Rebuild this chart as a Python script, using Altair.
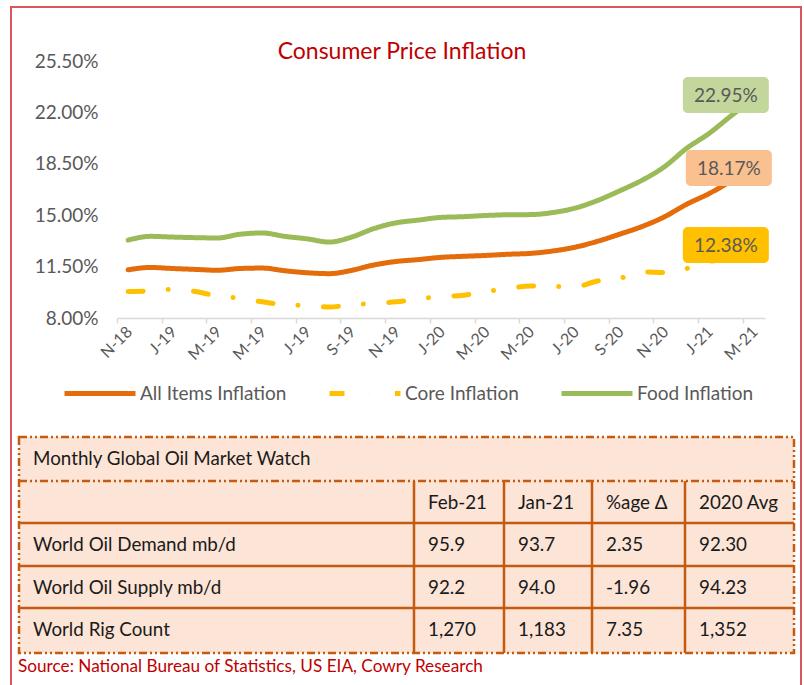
import altair as alt
import pandas as pd

# ---------------- data ----------------
months = ["Nov-18", "Dec-18", "Jan-19", "Feb-19", "Mar-19", "Apr-19", "May-19", "Jun-19",
          "Jul-19", "Aug-19", "Sep-19", "Oct-19", "Nov-19", "Dec-19", "Jan-20", "Feb-20",
          "Mar-20", "Apr-20", "May-20", "Jun-20", "Jul-20", "Aug-20", "Sep-20", "Oct-20",
          "Nov-20", "Dec-20", "Jan-21", "Feb-21", "Mar-21"]
all_items = [11.28, 11.44, 11.37, 11.31, 11.25, 11.37, 11.40, 11.22, 11.08, 11.02, 11.24, 11.61,
             11.85, 11.98, 12.13, 12.20, 12.26, 12.34, 12.40, 12.56, 12.82, 13.22, 13.71, 14.23,
             14.89, 15.75, 16.47, 17.33, 18.17]
core = [9.80, 9.85, 9.95, 9.80, 9.50, 9.35, 9.10, 8.90, 8.85, 8.75, 8.90, 9.00, 9.10, 9.30,
        9.45, 9.55, 9.80, 10.00, 10.18, 10.15, 10.12, 10.52, 10.70, 11.14, 11.10, 11.37, 11.85,
        12.00, 12.38]
food = [13.30, 13.56, 13.51, 13.47, 13.45, 13.70, 13.79, 13.56, 13.39, 13.17, 13.51, 14.09,
        14.48, 14.67, 14.85, 14.90, 14.98, 15.03, 15.04, 15.18, 15.48, 16.00, 16.66, 17.38,
        18.30, 19.56, 20.57, 21.79, 22.95]
series_names = ["All Items Inflation", "Core Inflation", "Food Inflation"]
y_ticks = [8.0, 11.5, 15.0, 18.5, 22.0, 25.5]
label_months = months[::2]
chart_title = "Consumer Price Inflation"

table_title = "Monthly Global Oil Market Watch"
table_columns = ["", "Feb-21", "Jan-21", "%age \u0394", "2020 Avg"]
table_rows = ["World Oil Demand mb/d", "World Oil Supply mb/d", "World Rig Count"]
feb21 = ["95.9", "92.2", "1,270"]
jan21 = ["93.7", "94.0", "1,183"]
pct_change = ["2.35", "-1.96", "7.35"]
avg2020 = ["92.30", "94.23", "1,352"]
source_note = "Source: National Bureau of Statistics, US EIA, Cowry Research"

# ---------------- styles ----------------
FONT = "Lato"
line_colors = ["#E46C0A", "#FFC000", "#9BBB59"]
box_fills = ["#FAC090", "#FFC000", "#C3D69B"]
dashes = [[1, 0], [15, 25, 0.1, 25.4], [1, 0]]
box_offsets = [(-25, -0.6), (-28, -8.7), (-28, -3.5)]
grey = "#595959"
frame_red = "#D9575A"
title_red = "#C00000"
table_fill = "#FCE4D6"
table_line = "#C55A11"
W, H = 648, 257
step = W / len(months)

# ---------------- line chart ----------------
series_values = [all_items, core, food]
lines_df = pd.DataFrame({
    "month": [m for _ in series_names for m in months],
    "idx": [i for _ in series_names for i in range(len(months))],
    "series": [s for s in series_names for _ in months],
    "value": [v for vals in series_values for v in vals],
})
last_df = pd.DataFrame({
    "month": [months[-1]] * 3,
    "series": series_names,
    "value": [vals[-1] for vals in series_values],
})

x_enc = alt.X(
    "month:O",
    sort=months,
    scale=alt.Scale(type="point", domain=months, padding=0.5),
    axis=alt.Axis(
        values=label_months, title=None, grid=False,
        labelExpr="substring(datum.label,0,1) + '-' + substring(datum.label,4,6)",
        labelAngle=-45, labelAlign="right", labelBaseline="middle",
        labelFontSize=16, labelColor=grey, labelFont=FONT, labelPadding=6,
        labelOverlap=False, labelOffset=step / 2 + 1,
        tickOffset=-step / 2, tickSize=5, tickColor="#D9D9D9", tickWidth=1.5,
        domainColor="#D9D9D9", domainWidth=1.5,
    ),
)
y_enc = alt.Y(
    "value:Q",
    scale=alt.Scale(domain=[8, 25.5], nice=False, zero=False),
    axis=alt.Axis(
        values=y_ticks, title=None, grid=False, domain=False, ticks=False,
        labelExpr="format(datum.value, '.2f') + '%'",
        labelFontSize=19, labelColor=grey, labelFont=FONT, labelPadding=19,
    ),
)
legend = alt.Legend(
    title=None, orient="none", legendX=-55, legendY=294.5, direction="horizontal",
    symbolType="stroke", symbolSize=71 * 71, symbolStrokeWidth=5,
    labelFontSize=19, labelColor=grey, labelFont=FONT, labelOffset=2,
    columnPadding=32, padding=0,
)
lines = alt.Chart(lines_df).mark_line(
    interpolate="monotone", strokeWidth=5, strokeCap="round"
).encode(
    x=x_enc, y=y_enc,
    color=alt.Color("series:N", scale=alt.Scale(domain=series_names, range=line_colors), legend=legend),
    strokeDash=alt.StrokeDash("series:N", scale=alt.Scale(domain=series_names, range=dashes), legend=legend),
    order=alt.Order("idx:Q"),
)

label_layers = []
for name, fill, (dx, dy) in zip(series_names, box_fills, box_offsets):
    base = alt.Chart(last_df).transform_filter(alt.datum.series == name)
    label_layers.append(
        base.mark_rect(width=86, height=36, cornerRadius=5, fill=fill, xOffset=dx, yOffset=dy)
        .encode(x=x_enc, y=y_enc)
    )
    label_layers.append(
        base.transform_calculate(txt="format(datum.value, '.2f') + '%'")
        .mark_text(font=FONT, fontSize=19, color=grey, align="center", baseline="middle",
                   xOffset=dx, yOffset=dy + 1)
        .encode(x=x_enc, y=y_enc, text="txt:N")
    )

one = pd.DataFrame({"title": [chart_title]})
frame_left = alt.Chart(one).mark_rule(color=frame_red, strokeWidth=2).encode(
    x=alt.value(-106), y=alt.value(-54), y2=alt.value(624))
frame_top = alt.Chart(one).mark_rule(color=frame_red, strokeWidth=2).encode(
    x=alt.value(-107), x2=alt.value(685), y=alt.value(-54))
frame_right = alt.Chart(one).mark_rule(color=frame_red, strokeWidth=2).encode(
    x=alt.value(684), y=alt.value(-54), y2=alt.value(624))
title_mark = alt.Chart(one).mark_text(
    font=FONT, fontSize=23, color=title_red, align="center", baseline="alphabetic"
).encode(x=alt.value(285), y=alt.value(-2), text="title:N")

main = alt.layer(frame_left, frame_top, frame_right, lines, *label_layers, title_mark)

# ---------------- table ----------------
n_cols = len(table_columns)
n_rows = 2 + len(table_rows)
cells = [dict(c0=0, c1=n_cols, r0=0, r1=1)]
for r in range(1, n_rows):
    for c in range(n_cols):
        cells.append(dict(c0=c, c1=c + 1, r0=r, r1=r + 1))
cells_df = pd.DataFrame(cells)

texts = [dict(c=0, r=0, t=table_title)]
for c in range(1, n_cols):
    texts.append(dict(c=c, r=1, t=table_columns[c]))
for i, name in enumerate(table_rows):
    row_vals = [name, feb21[i], jan21[i], pct_change[i], avg2020[i]]
    for c, v in enumerate(row_vals):
        texts.append(dict(c=c, r=2 + i, t=v))
texts_df = pd.DataFrame(texts)
src_df = pd.DataFrame({"c": [0], "r": [n_rows], "t": [source_note]})

vlines_df = pd.DataFrame({"c": list(range(1, n_cols)), "r0": [1] * (n_cols - 1), "r1": [n_rows] * (n_cols - 1)})
hlines_df = pd.DataFrame({"r": list(range(2, n_rows)), "c0": [0] * (n_rows - 2), "c1": [n_cols] * (n_rows - 2)})
border_df = pd.DataFrame({"c0": [0], "c1": [n_cols], "r0": [0], "r1": [n_rows]})
dashed_h_df = pd.DataFrame({"r": [1], "c0": [0], "c1": [n_cols]})

tx = alt.Scale(domain=list(range(n_cols + 1)), range=[-98, 297, 387, 475, 568, 677], nice=False, zero=False)
ty = alt.Scale(domain=list(range(n_rows + 1)), range=[376, 420, 462, 505, 547, 592], nice=False, zero=False)
dash_pat = [8, 3, 2, 3, 2, 3]

cells_layer = alt.Chart(cells_df).mark_rect(fill=table_fill, stroke=None).encode(
    x=alt.X("c0:Q", scale=tx, axis=None), x2="c1:Q",
    y=alt.Y("r0:Q", scale=ty, axis=None), y2="r1:Q")
vlines = alt.Chart(vlines_df).mark_rule(color=table_line, strokeWidth=2.5).encode(
    x=alt.X("c:Q", scale=tx, axis=None),
    y=alt.Y("r0:Q", scale=ty, axis=None), y2="r1:Q")
hlines = alt.Chart(hlines_df).mark_rule(color=table_line, strokeWidth=2.5).encode(
    y=alt.Y("r:Q", scale=ty, axis=None),
    x=alt.X("c0:Q", scale=tx, axis=None), x2="c1:Q")
dashed_h = alt.Chart(dashed_h_df).mark_rule(color=table_line, strokeWidth=2.5, strokeDash=dash_pat).encode(
    y=alt.Y("r:Q", scale=ty, axis=None),
    x=alt.X("c0:Q", scale=tx, axis=None), x2="c1:Q")
border = alt.Chart(border_df).mark_rect(
    fill=None, fillOpacity=0, stroke=table_line, strokeWidth=2.5, strokeDash=dash_pat
).encode(
    x=alt.X("c0:Q", scale=tx, axis=None), x2="c1:Q",
    y=alt.Y("r0:Q", scale=ty, axis=None), y2="r1:Q")
text_layer = alt.Chart(texts_df).mark_text(
    font=FONT, fontSize=18.8, color="#1A1A1A", align="left", baseline="middle", dx=14, dy=22
).encode(
    x=alt.X("c:Q", scale=tx, axis=None), y=alt.Y("r:Q", scale=ty, axis=None), text="t:N")
src_layer = alt.Chart(src_df).mark_text(
    font=FONT, fontSize=17.2, color=title_red, align="left", baseline="middle", dx=-1, dy=14
).encode(
    x=alt.X("c:Q", scale=tx, axis=None), y=alt.Y("r:Q", scale=ty, axis=None), text="t:N")

table = alt.layer(cells_layer, hlines, vlines, dashed_h, border, text_layer, src_layer)

chart = alt.layer(main, table).resolve_scale(x="independent", y="independent").properties(
    width=W, height=H,
    autosize=alt.AutoSizeParams(type="none"),
    padding={"left": 117, "top": 61, "right": 39, "bottom": 367},
    background="white",
).configure(font=FONT).configure_view(stroke=None)

chart.save("out.html", embed_options={"renderer": "svg", "actions": False})
